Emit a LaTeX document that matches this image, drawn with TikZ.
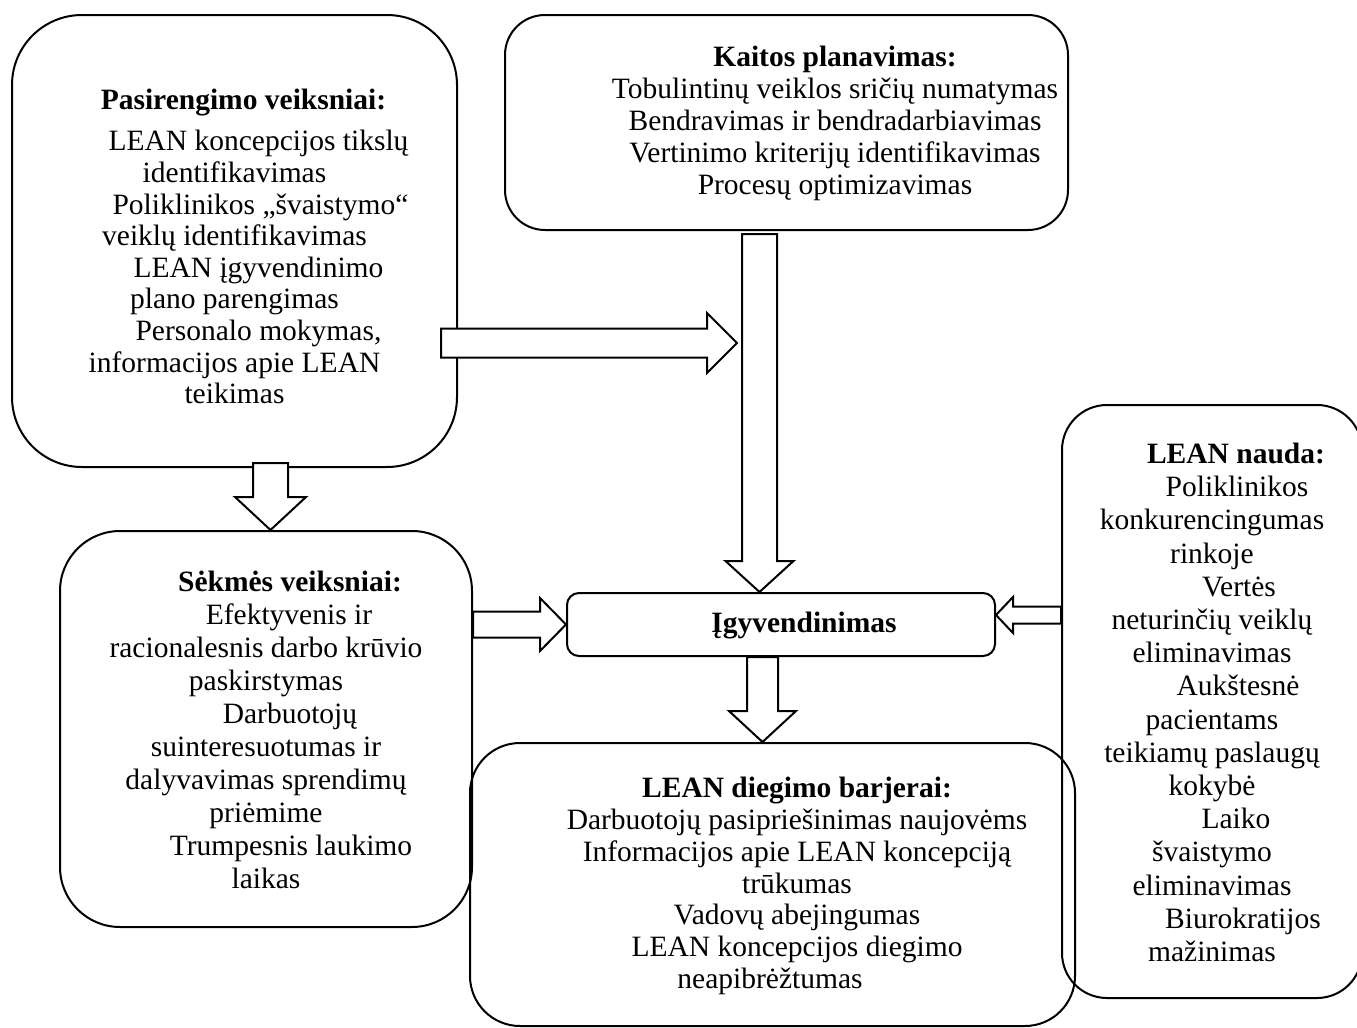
\documentclass[tikz,border=0pt]{standalone}
\usepackage{fontspec}
\setmainfont{Liberation Serif}
\usetikzlibrary{calc}
\tikzset{
	box/.style={draw, line width=1pt, inner sep=0pt},
	txt/.style={align=center, inner sep=0pt, font=\fontsize{14.75pt}{#1}\selectfont},
	txt/.default=16.5pt,
	blockarrow/.style={draw, fill=white, line width=1pt, line join=miter}
}
% hollow block arrows: start, tip, shaft half width, head half width, head length
\newcommand{\rightblock}[5]{\draw[blockarrow] ($(#1)+(0,-#3)$) -- ($(#2)+(-#5,-#3)$) -- ($(#2)+(-#5,-#4)$) -- (#2) -- ($(#2)+(-#5,#4)$) -- ($(#2)+(-#5,#3)$) -- ($(#1)+(0,#3)$) -- cycle;}
\newcommand{\leftblock}[5]{\draw[blockarrow] ($(#1)+(0,-#3)$) -- ($(#2)+(#5,-#3)$) -- ($(#2)+(#5,-#4)$) -- (#2) -- ($(#2)+(#5,#4)$) -- ($(#2)+(#5,#3)$) -- ($(#1)+(0,#3)$) -- cycle;}
\newcommand{\downblock}[5]{\draw[blockarrow] ($(#1)+(-#3,0)$) -- ($(#2)+(-#3,-#5)$) -- ($(#2)+(-#4,-#5)$) -- (#2) -- ($(#2)+(#4,-#5)$) -- ($(#2)+(#3,-#5)$) -- ($(#1)+(#3,0)$) -- cycle;}

\begin{document}
\begin{tikzpicture}[x=0.5pt, y=-0.5pt]
	\useasboundingbox (0,0) rectangle (1357,1028);

	\node[box, rounded corners=35pt, minimum width=222.5pt, minimum height=226pt] (pasir) at (234.5,241) {};
	\node[box, rounded corners=20pt, minimum width=281.5pt, minimum height=107.5pt] (kaita) at (786.5,122.5) {};
	\node[box, rounded corners=30pt, minimum width=206pt, minimum height=198pt] (sekmes) at (266,729) {};
	\node[box, rounded corners=6pt, minimum width=214pt, minimum height=31.5pt] (igyv) at (781,624.5) {};
	\node[box, rounded corners=25pt, minimum width=302.5pt, minimum height=141.5pt] (barjer) at (772.5,884.5) {};
	\node[box, rounded corners=22.5pt, minimum width=150pt, minimum height=296.5pt] (nauda) at (1212,701.5) {};

	\node[txt=15.8pt] (pasirText) at (234.5,246.5) {\hspace*{9pt}\textbf{Pasirengimo veiksniai:}\\[5pt]
		\hspace*{24pt}LEAN koncepcijos tikslų\\ identifikavimas\\
		\hspace*{26pt}Poliklinikos „švaistymo“\\ veiklų identifikavimas\\
		\hspace*{24pt}LEAN įgyvendinimo\\ plano parengimas\\
		\hspace*{24pt}Personalo mokymas,\\ informacijos apie LEAN\\ teikimas};
	\node[txt=16pt] (kaitaText) at (835,123) {\textbf{Kaitos planavimas:}\\
		Tobulintinų veiklos sričių numatymas\\ Bendravimas ir bendradarbiavimas\\
		Vertinimo kriterijų identifikavimas\\ Procesų optimizavimas};
	\node[txt=16.5pt] (sekmesText) at (266,730) {\hspace*{24pt}\textbf{Sėkmės veiksniai:}\\
		\hspace*{23pt}Efektyvenis ir\\ racionalesnis darbo krūvio\\ paskirstymas\\
		\hspace*{24pt}Darbuotojų\\ suinteresuotumas ir\\ dalyvavimas sprendimų\\ priėmime\\
		\hspace*{25pt}Trumpesnis laukimo\\ laikas};
	\node[txt] (igyvText) at (804,625.5) {\textbf{Įgyvendinimas}};
	\node[txt=15.9pt] (barjerText) at (797,886) {\textbf{LEAN diegimo barjerai:}\\
		Darbuotojų pasipriešinimas naujovėms\\ Informacijos apie LEAN koncepciją\\
		trūkumas\hspace*{24pt}\\ Vadovų abejingumas\hspace*{7pt}\\
		LEAN koncepcijos diegimo\\ neapibrėžtumas\hspace*{27pt}};
	\node[txt=16.6pt] (naudaText) at (1212,702.5) {\hspace*{24pt}\textbf{LEAN nauda:}\\
		\hspace*{25pt}Poliklinikos\\ konkurencingumas\\ rinkoje\\
		\hspace*{27pt}Vertės\\ neturinčių veiklų\\ eliminavimas\\
		\hspace*{26pt}Aukštesnė\\ pacientams\\ teikiamų paslaugų\\ kokybė\\
		\hspace*{24pt}Laiko\\ švaistymo\\ eliminavimas\\
		\hspace*{31pt}Biurokratijos\\ mažinimas};

	\coordinate (planIn) at (737,343);
	\rightblock{$(pasir.east |- planIn)+(-17,0)$}{planIn}{14.5}{30}{30}
	\downblock{$(kaita.south)+(-27,3)$}{$(igyv.north)+(-21.5,0)$}{17.5}{34}{31}
	\downblock{$(pasir.south)+(36,-5)$}{$(sekmes.north)+(4.5,0)$}{17.5}{35.5}{33}
	\rightblock{sekmes.east |- igyv.west}{igyv.west}{13}{26.5}{26}
	\downblock{$(igyv.south)+(-18.5,0)$}{$(barjer.north)+(-10,0)$}{15.5}{33.5}{31}
	\leftblock{$(nauda.west)+(0,-86.5)$}{$(igyv.east)+(0,-9.5)$}{8.5}{18}{17}
\end{tikzpicture}
\end{document}
